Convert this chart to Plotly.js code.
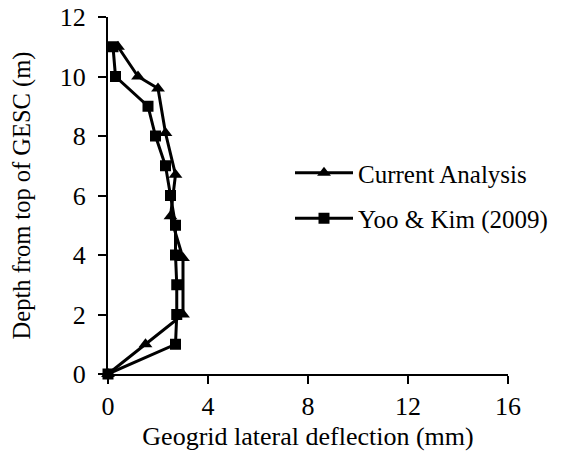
<!DOCTYPE html>
<html>
<head>
<meta charset="utf-8">
<script src="https://cdn.plot.ly/plotly-3.0.1.min.js"></script>
<style>html,body{margin:0;padding:0;background:#fff;}#chart{width:565px;height:461px;}</style>
</head>
<body>
<div id="chart"></div>
<script>
const currentX = [0, 1.5, 3.0, 3.0, 2.5, 2.7, 2.3, 2.0, 1.2, 0.4];
const currentY = [0, 1.0, 2.0, 3.9, 5.3, 6.7, 8.1, 9.6, 10.0, 11.0];
const yooX = [0, 2.7, 2.75, 2.75, 2.7, 2.7, 2.5, 2.3, 1.9, 1.6, 0.3, 0.2];
const yooY = [0, 1, 2, 3, 4, 5, 6, 7, 8, 9, 10, 11];
const xTicks = [0, 4, 8, 12, 16];
const yTicks = [0, 2, 4, 6, 8, 10, 12];

const fontFam = '"Liberation Serif", "Times New Roman", serif';
const traces = [
  {x: currentX, y: currentY, name: 'Current Analysis', legendgroup: 'a', mode: 'lines+markers',
   line: {color: '#000', width: 3}, marker: {symbol: 'triangle-up', size: 12, color: '#000'}, cliponaxis: false},
  {x: yooX, y: yooY, name: 'Yoo & Kim (2009)', legendgroup: 'b', mode: 'lines+markers',
   line: {color: '#000', width: 3}, marker: {symbol: 'square', size: 11, color: '#000'}, cliponaxis: false}
];
const layout = {
  width: 565, height: 461,
  margin: {l: 108, r: 57, t: 17, b: 87},
  paper_bgcolor: '#fff', plot_bgcolor: '#fff',
  font: {family: fontFam, size: 26, color: '#000'},
  showlegend: true,
  legend: {x: 0.455, y: 0.5, xanchor: 'left', yanchor: 'middle', bgcolor: 'rgba(0,0,0,0)',
           font: {family: fontFam, size: 25, color: '#000'}, itemwidth: 58, tracegroupgap: 10},
  xaxis: {range: [0, 16], tickvals: xTicks, ticktext: xTicks.map(String), showgrid: false, zeroline: false,
          showline: true, linecolor: '#000', linewidth: 2, ticks: 'outside', ticklen: 8, tickwidth: 2, tickcolor: '#000',
          tickfont: {size: 26},
          title: {text: 'Geogrid lateral deflection (mm)', font: {family: fontFam, size: 26}, standoff: 7}},
  yaxis: {range: [0, 12], tickvals: yTicks, ticktext: yTicks.map(String), showgrid: false, zeroline: false,
          showline: true, linecolor: '#000', linewidth: 2, ticks: 'outside', ticklen: 8, tickwidth: 2, tickcolor: '#000',
          tickfont: {size: 26}, ticklabelstandoff: 7,
          title: {text: 'Depth from top of GESC (m)', font: {family: fontFam, size: 24.5}, standoff: 22}}
};
Plotly.newPlot('chart', traces, layout, {displayModeBar: false, staticPlot: true});
</script>
</body>
</html>
